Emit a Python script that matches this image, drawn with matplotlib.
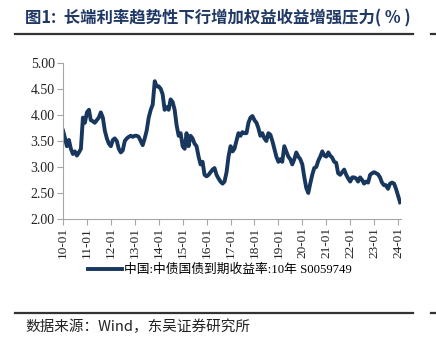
import numpy as np
import pandas as pd
import matplotlib
matplotlib.use("Agg")
import matplotlib.pyplot as plt
import matplotlib.dates as mdates
from matplotlib.lines import Line2D

plt.rcParams['font.family'] = ['Liberation Serif', 'Noto Sans CJK SC']

# 中债10年国债到期收益率, 月度读数 (2010-01 .. 2024-02)
start = "2010-01-01"
yield_10y = [
    3.70, 3.55, 3.40, 3.52, 3.35, 3.25, 3.30, 3.22, 3.28, 3.35, 3.95, 3.85,  # 2010
    4.05, 4.10, 3.90, 3.88, 3.85, 3.90, 3.95, 4.05, 3.95, 3.70, 3.55, 3.45,  # 2011
    3.40, 3.52, 3.55, 3.50, 3.35, 3.28, 3.32, 3.50, 3.55, 3.58, 3.60, 3.58,  # 2012
    3.60, 3.60, 3.58, 3.50, 3.42, 3.55, 3.70, 3.95, 4.10, 4.20, 4.65, 4.55,  # 2013
    4.55, 4.50, 4.40, 4.10, 4.15, 4.10, 4.30, 4.25, 4.10, 3.80, 3.60, 3.65,  # 2014
    3.40, 3.35, 3.65, 3.40, 3.60, 3.55, 3.45, 3.40, 3.20, 3.05, 3.10, 2.85,  # 2015
    2.82, 2.85, 2.90, 2.95, 2.98, 2.85, 2.78, 2.72, 2.68, 2.72, 2.90, 3.20,  # 2016
    3.40, 3.30, 3.35, 3.50, 3.65, 3.60, 3.67, 3.65, 3.65, 3.85, 3.95, 3.98,  # 2017
    3.90, 3.85, 3.75, 3.60, 3.65, 3.55, 3.50, 3.65, 3.62, 3.50, 3.35, 3.20,  # 2018
    3.10, 3.15, 3.10, 3.40, 3.30, 3.20, 3.15, 3.05, 3.15, 3.28, 3.20, 3.15,  # 2019
    3.05, 2.80, 2.60, 2.50, 2.68, 2.85, 2.98, 3.00, 3.12, 3.20, 3.30, 3.22,  # 2020
    3.20, 3.28, 3.22, 3.18, 3.10, 3.08, 2.88, 2.85, 2.90, 2.95, 2.85, 2.78,  # 2021
    2.72, 2.80, 2.80, 2.78, 2.72, 2.80, 2.75, 2.68, 2.72, 2.70, 2.85, 2.88,  # 2022
    2.90, 2.88, 2.86, 2.80, 2.70, 2.65, 2.65, 2.58, 2.68, 2.70, 2.68, 2.58,  # 2023
    2.45, 2.32,                                                              # 2024
]
dates = pd.date_range(start, periods=len(yield_10y), freq="MS")
tick_years = list(range(2010, 2025))
y_ticks = [2.0, 2.5, 3.0, 3.5, 4.0, 4.5, 5.0]

navy = "#17375e"
spine_gray = "#a6a6a6"

fig = plt.figure(figsize=(4.36, 3.44), dpi=100)
ax = fig.add_axes([0.1445, 0.3634, 0.7752, 0.4535])

ax.plot(dates, yield_10y, color=navy, lw=2.8, solid_joinstyle='round')

ax.set_ylim(2.0, 5.0)
ax.set_yticks(y_ticks)
ax.set_yticklabels([f"{v:.2f}" for v in y_ticks], fontsize=10)
ax.set_xlim(pd.Timestamp("2010-01-01"), pd.Timestamp("2024-02-15"))
ax.set_xticks([pd.Timestamp(f"{y}-01-01") for y in tick_years])
ax.xaxis.set_major_formatter(mdates.DateFormatter("%y-%m"))
plt.setp(ax.get_xticklabels(), rotation=90, fontsize=9.5)

for s in ["top", "right"]:
    ax.spines[s].set_visible(False)
for s in ["left", "bottom"]:
    ax.spines[s].set_color(spine_gray)
    ax.spines[s].set_linewidth(0.8)
ax.tick_params(axis="both", colors=spine_gray, labelcolor="#222222",
               length=4, width=0.8, pad=2)

# legend
leg_handle = Line2D([0], [0], color=navy, lw=2.8)
fig.legend([leg_handle], ["中国:中债国债到期收益率:10年 S0059749"],
           loc="center", bbox_to_anchor=(0.505, 1 - 270 / 344), frameon=False,
           handlelength=2.6, handletextpad=0.2,
           prop={'family': ['Liberation Serif', 'Noto Sans CJK SC'], 'size': 9.2})

# title and rules
fig.text(25 / 436, 1 - 18 / 344, "图1:  长端利率趋势性下行增加权益收益增强压力( % )",
         fontsize=11.8, fontweight="bold", color="#1f3864", va="center",
         family=['Noto Sans CJK SC'])
for yy in [34, 313]:
    fig.add_artist(Line2D([15 / 436, 413 / 436], [1 - yy / 344] * 2,
                          color="#333333", lw=1.6))
    fig.add_artist(Line2D([431 / 436, 1.0], [1 - yy / 344] * 2,
                          color="#333333", lw=1.6))
fig.text(25 / 436, 1 - 327 / 344, "数据来源：Wind，东吴证券研究所",
         fontsize=10.5, color="#222222", va="center",
         family=['Noto Sans CJK SC', 'Liberation Serif'])

fig.savefig("out.png", dpi=100)
